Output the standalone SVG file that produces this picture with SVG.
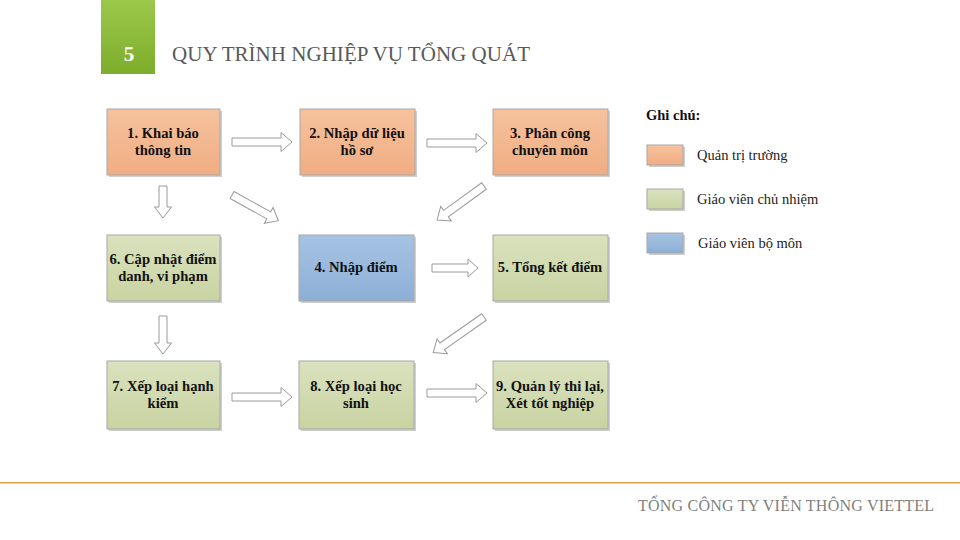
<svg xmlns="http://www.w3.org/2000/svg" width="960" height="540" viewBox="0 0 960 540">
<defs>
<linearGradient id="gO" x1="0" y1="0" x2="0" y2="1"><stop offset="0" stop-color="#F6C29E"/><stop offset="1" stop-color="#F0AD82"/></linearGradient>
<linearGradient id="gG" x1="0" y1="0" x2="0" y2="1"><stop offset="0" stop-color="#DAE2BE"/><stop offset="1" stop-color="#C8D3A2"/></linearGradient>
<linearGradient id="gB" x1="0" y1="0" x2="0" y2="1"><stop offset="0" stop-color="#A6C3E2"/><stop offset="1" stop-color="#8DAFD6"/></linearGradient>
<linearGradient id="gS" x1="0" y1="0" x2="0" y2="1"><stop offset="0" stop-color="#9CC84A"/><stop offset="1" stop-color="#7DAD2C"/></linearGradient>
</defs>
<style>
.box{stroke:#A8A8A8;stroke-width:1}
.sh{fill:#CFCFCF}
.o{fill:url(#gO)}
.g{fill:url(#gG)}
.b{fill:url(#gB)}
.t{font-family:"Liberation Serif","Times New Roman",serif;font-weight:bold;font-size:14.6px;fill:#111;text-anchor:middle}
.arr{fill:#FFFFFF;stroke:#9A9A9A;stroke-width:1;stroke-linejoin:miter}
.lg{font-family:"Liberation Serif","Times New Roman",serif;font-size:14.5px;fill:#222}
</style>
<rect width="960" height="540" fill="#FFFFFF"/>
<g id="header">
<rect x="101" y="0" width="54" height="74" fill="url(#gS)"/>
<text x="129" y="61" font-family="Liberation Serif,serif" font-weight="bold" font-size="21" fill="#FFFFFF" text-anchor="middle">5</text>
<text x="172" y="61" font-family="Liberation Serif,serif" font-size="21" fill="#595959" textLength="358">QUY TRÌNH NGHIỆP VỤ TỔNG QUÁT</text>
</g>
<g id="node1"><rect class="sh" x="109" y="111" width="113" height="66"/><rect class="box o" x="107" y="109" width="113" height="66"/><text class="t" x="163" y="138">1. Khai báo</text><text class="t" x="163" y="155">thông tin</text></g>
<g id="node2"><rect class="sh" x="302" y="111" width="115" height="66"/><rect class="box o" x="300" y="109" width="115" height="66"/><text class="t" x="357" y="138">2. Nhập dữ liệu</text><text class="t" x="357" y="155">hồ sơ</text></g>
<g id="node3"><rect class="sh" x="495" y="111" width="115" height="66"/><rect class="box o" x="493" y="109" width="115" height="66"/><text class="t" x="550" y="138">3. Phân công</text><text class="t" x="550" y="155">chuyên môn</text></g>
<g id="node6"><rect class="sh" x="109" y="237" width="113" height="66"/><rect class="box g" x="107" y="235" width="113" height="66"/><text class="t" x="163" y="264">6. Cập nhật điểm</text><text class="t" x="163" y="281">danh, vi phạm</text></g>
<g id="node4"><rect class="sh" x="301" y="237" width="115" height="66"/><rect class="box b" x="299" y="235" width="115" height="66"/><text class="t" x="356" y="272">4. Nhập điểm</text></g>
<g id="node5"><rect class="sh" x="495" y="237" width="115" height="66"/><rect class="box g" x="493" y="235" width="115" height="66"/><text class="t" x="550" y="272">5. Tổng kết điểm</text></g>
<g id="node7"><rect class="sh" x="109" y="363" width="113" height="68"/><rect class="box g" x="107" y="361" width="113" height="68"/><text class="t" x="163" y="391">7. Xếp loại hạnh</text><text class="t" x="163" y="408">kiểm</text></g>
<g id="node8"><rect class="sh" x="301" y="363" width="115" height="68"/><rect class="box g" x="299" y="361" width="115" height="68"/><text class="t" x="356" y="391">8. Xếp loại học</text><text class="t" x="356" y="408">sinh</text></g>
<g id="node9"><rect class="sh" x="495" y="363" width="115" height="68"/><rect class="box g" x="493" y="361" width="115" height="68"/><text class="t" x="550" y="391">9. Quản lý thi lại,</text><text class="t" x="550" y="408">Xét tốt nghiệp</text></g>
<g id="connectors">
<path class="arr" transform="translate(232,142)" d="M0,-4 H49 V-9.5 L60,0 L49,9.5 V4 H0 Z"/>
<path class="arr" transform="translate(427,143)" d="M0,-4 H49 V-9.5 L60,0 L49,9.5 V4 H0 Z"/>
<path class="arr" transform="translate(163,186) rotate(90)" d="M0,-4 H21 V-8.5 L32,0 L21,8.5 V4 H0 Z"/>
<path class="arr" transform="translate(232,195) rotate(29)" d="M0,-4 H42 V-9 L53,0 L42,9 V4 H0 Z"/>
<path class="arr" transform="translate(484,186) rotate(144)" d="M0,-4 H47 V-9 L58,0 L47,9 V4 H0 Z"/>
<path class="arr" transform="translate(432,268)" d="M0,-4 H36 V-9 L46,0 L36,9 V4 H0 Z"/>
<path class="arr" transform="translate(163,316) rotate(90)" d="M0,-4 H27 V-8.5 L38,0 L27,8.5 V4 H0 Z"/>
<path class="arr" transform="translate(484,317) rotate(145)" d="M0,-4 H51 V-9 L62,0 L51,9 V4 H0 Z"/>
<path class="arr" transform="translate(232,397)" d="M0,-4 H49 V-9.5 L60,0 L49,9.5 V4 H0 Z"/>
<path class="arr" transform="translate(427,393)" d="M0,-4 H49 V-9.5 L60,0 L49,9.5 V4 H0 Z"/>
</g>
<g id="legend">
<text x="646" y="120" font-family="Liberation Serif,serif" font-weight="bold" font-size="14.5" fill="#111">Ghi chú:</text>
<rect class="sh" x="649" y="147" width="36" height="20"/><rect class="box o" x="647" y="145" width="36" height="20"/>
<text class="lg" x="697" y="160">Quản trị trường</text>
<rect class="sh" x="649" y="191" width="36" height="20"/><rect class="box g" x="647" y="189" width="36" height="20"/>
<text class="lg" x="697" y="204">Giáo viên chủ nhiệm</text>
<rect class="sh" x="649" y="235" width="36" height="20"/><rect class="box b" x="647" y="233" width="36" height="20"/>
<text class="lg" x="698" y="248">Giáo viên bộ môn</text>
</g>
<g id="footer">
<rect x="0" y="482" width="960" height="1.5" fill="#D8A24A"/>
<text x="638" y="511" font-family="Liberation Serif,serif" font-size="16" fill="#7F7F7F" textLength="296">TỔNG CÔNG TY VIỄN THÔNG VIETTEL</text>
</g>
</svg>
